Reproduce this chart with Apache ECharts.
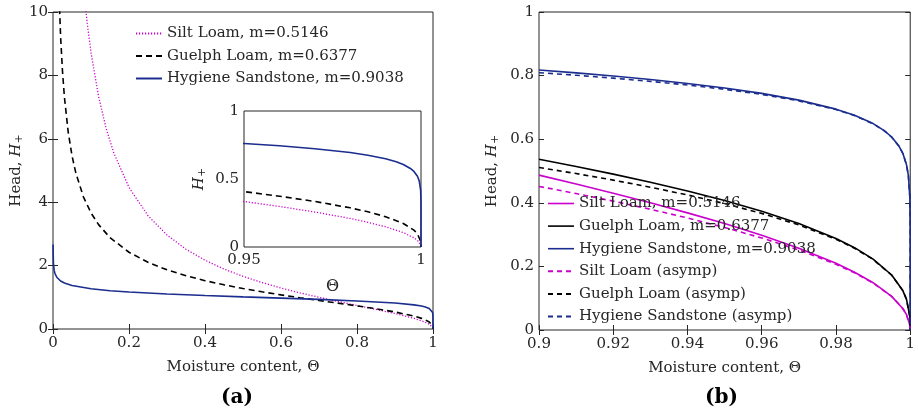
<!DOCTYPE html>
<html>
<head>
<meta charset="utf-8">
<script src="https://cdn.jsdelivr.net/npm/echarts@6/dist/echarts.min.js"></script>
<style>
  html, body { margin: 0; background: #fff; }
  #chart { width: 918px; height: 415px; }
</style>
</head>
<body>
<div id="chart"></div>
<script>
// panel (a): head vs moisture content, whole range
const siltThetaA = [0.08, 0.09, 0.1, 0.12, 0.14, 0.16, 0.2, 0.25, 0.3, 0.35, 0.4, 0.45, 0.5, 0.55, 0.6, 0.65, 0.7, 0.75, 0.8, 0.85, 0.9, 0.95, 0.97, 0.98, 0.99, 0.995, 0.999, 1]
const siltHeadA = [10.79, 9.648, 8.727, 7.330, 6.320, 5.553, 4.466, 3.574, 2.964, 2.516, 2.170, 1.892, 1.662, 1.465, 1.293, 1.140, 1.000, 0.869, 0.743, 0.618, 0.487, 0.335, 0.257, 0.210, 0.149, 0.106, 0.048, 0]

const guelphThetaA = [0.012, 0.015, 0.02, 0.025, 0.03, 0.04, 0.05, 0.06, 0.08, 0.1, 0.12, 0.15, 0.2, 0.25, 0.3, 0.35, 0.4, 0.45, 0.5, 0.55, 0.6, 0.65, 0.7, 0.75, 0.8, 0.85, 0.9, 0.95, 0.97, 0.98, 0.99, 0.995, 0.999, 1]
const guelphHeadA = [12.33, 10.86, 9.223, 8.122, 7.321, 6.212, 5.467, 4.923, 4.170, 3.663, 3.292, 2.883, 2.421, 2.104, 1.867, 1.680, 1.525, 1.393, 1.277, 1.173, 1.077, 0.987, 0.901, 0.816, 0.730, 0.639, 0.537, 0.407, 0.335, 0.288, 0.223, 0.173, 0.096, 0]

const hygThetaA = [0.0001, 0.001, 0.003, 0.005, 0.01, 0.02, 0.03, 0.05, 0.1, 0.15, 0.2, 0.3, 0.4, 0.5, 0.6, 0.7, 0.8, 0.9, 0.95, 0.97, 0.98, 0.99, 0.995, 0.999, 0.9999, 1]
const hygHeadA = [2.665, 2.086, 1.856, 1.757, 1.632, 1.515, 1.450, 1.371, 1.268, 1.209, 1.166, 1.104, 1.056, 1.014, 0.974, 0.933, 0.885, 0.818, 0.761, 0.723, 0.695, 0.649, 0.607, 0.520, 0.416, 0]

// panel (b): close to saturation, full curves and asymptotes (also used by the inset)
const thetaB = [0.9, 0.91, 0.92, 0.93, 0.94, 0.95, 0.96, 0.97, 0.98, 0.985, 0.99, 0.995, 0.998, 0.999, 0.9999, 1]
const siltHeadB = [0.4871, 0.4591, 0.4302, 0.4001, 0.3683, 0.3346, 0.2980, 0.2572, 0.2097, 0.1818, 0.1487, 0.1058, 0.0677, 0.0483, 0.0158, 0]
const siltAsympB = [0.4515, 0.4290, 0.4052, 0.3797, 0.3523, 0.3225, 0.2894, 0.2517, 0.2067, 0.1798, 0.1477, 0.1055, 0.0676, 0.0483, 0.0158, 0]
const guelphHeadB = [0.5369, 0.5141, 0.4901, 0.4646, 0.4372, 0.4072, 0.3737, 0.3351, 0.2880, 0.2589, 0.2230, 0.1730, 0.1240, 0.0964, 0.0418, 0]
const guelphAsympB = [0.5111, 0.4919, 0.4714, 0.4491, 0.4247, 0.3976, 0.3667, 0.3304, 0.2853, 0.2570, 0.2219, 0.1726, 0.1239, 0.0964, 0.0418, 0]

const hygThetaB = [0.9, 0.91, 0.92, 0.93, 0.94, 0.95, 0.96, 0.97, 0.98, 0.985, 0.99, 0.993, 0.995, 0.997, 0.998, 0.999, 0.9995, 0.9999, 0.99999, 0.999999, 1]
const hygHeadB = [0.8178, 0.8087, 0.7987, 0.7876, 0.7752, 0.7609, 0.7440, 0.7229, 0.6945, 0.6752, 0.6491, 0.6270, 0.6069, 0.5776, 0.5555, 0.5196, 0.4861, 0.4163, 0.3336, 0.2673, 0]
const hygAsympB = [0.8092, 0.8010, 0.7920, 0.7818, 0.7704, 0.7569, 0.7409, 0.7206, 0.6931, 0.6742, 0.6484, 0.6265, 0.6066, 0.5775, 0.5554, 0.5196, 0.4860, 0.4163, 0.3336, 0.2673, 0]

const names = ['Silt Loam, m=0.5146', 'Guelph Loam, m=0.6377', 'Hygiene Sandstone, m=0.9038']
const asympNames = ['Silt Loam (asymp)', 'Guelph Loam (asymp)', 'Hygiene Sandstone (asymp)']

const MAG = '#cc00cc'
const BLK = '#000000'
const NAVY = '#1b2d8e'
const AX = '#262626'
const FONT = 'DejaVu Serif'
const FS = 15

const pairs = (xs, ys) => xs.map((x, i) => [x, ys[i]])

const line = (name, xi, yi, data, color, type, width, z) => ({
  name: name,
  type: 'line',
  xAxisIndex: xi,
  yAxisIndex: yi,
  data: data,
  symbol: 'none',
  z: z || 2,
  lineStyle: { color: color, type: type, width: width },
  itemStyle: { color: color },
  animation: false
})

const tickStyle = { inside: true, length: 5, lineStyle: { color: AX } }
const labelStyle = { color: AX, fontFamily: FONT, fontSize: FS }
const rich = {
  n: { fontFamily: FONT, fontSize: FS, color: AX },
  i: { fontFamily: FONT, fontSize: FS, color: AX, fontStyle: 'italic' },
  s: { fontFamily: FONT, fontSize: 11, color: AX, padding: [7, 0, 0, 0] }
}

// bottom/left axis with labels, plus a bare top/right twin for the ticks
const xAxes = (grid, min, max, interval) => [
  { type: 'value', gridIndex: grid, min: min, max: max, interval: interval,
    name: 'Moisture content, \u0398', nameLocation: 'middle', nameGap: 31,
    nameTextStyle: { fontFamily: FONT, fontSize: FS, color: AX },
    axisLine: { show: false }, axisTick: tickStyle, splitLine: { show: false },
    axisLabel: Object.assign({ margin: 7 }, labelStyle) },
  { type: 'value', gridIndex: grid, position: 'top', min: min, max: max, interval: interval,
    axisLine: { show: false }, axisTick: tickStyle, splitLine: { show: false }, axisLabel: { show: false } }
]
const yAxes = (grid, min, max, interval, gap) => [
  { type: 'value', gridIndex: grid, min: min, max: max, interval: interval,
    name: '{n|Head, }{i|H}{s|+}', nameLocation: 'middle', nameGap: gap,
    nameTextStyle: { rich: rich },
    axisLine: { show: false }, axisTick: tickStyle, splitLine: { show: false },
    axisLabel: Object.assign({ margin: 5 }, labelStyle) },
  { type: 'value', gridIndex: grid, position: 'right', min: min, max: max, interval: interval,
    axisLine: { show: false }, axisTick: tickStyle, splitLine: { show: false }, axisLabel: { show: false } }
]

const gridBox = { show: true, borderColor: AX, borderWidth: 1, backgroundColor: '#fff' }
const noDot = { color: 'rgba(0,0,0,0)', borderColor: 'rgba(0,0,0,0)', borderWidth: 0 }

const option = {
  animation: false,
  grid: [
    Object.assign({ left: 53, top: 12, width: 380, height: 317 }, gridBox),
    Object.assign({ left: 539, top: 12, width: 374, height: 318 }, gridBox),
    Object.assign({ left: 244, top: 111, width: 177, height: 136, z: 3 }, gridBox)
  ],
  xAxis: [
    ...xAxes(0, 0, 1, 0.2),
    ...xAxes(1, 0.9, 1, 0.02),
    { type: 'value', gridIndex: 2, min: 0.95, max: 1, interval: 0.05, z: 5,
      name: '\u0398', nameLocation: 'middle', nameGap: 32,
      nameTextStyle: { fontFamily: FONT, fontSize: 16, color: AX },
      axisLine: { show: false }, axisTick: { show: false }, splitLine: { show: false },
      axisLabel: Object.assign({ margin: 6 }, labelStyle) }
  ],
  yAxis: [
    ...yAxes(0, 0, 10, 2, 28),
    ...yAxes(1, 0, 1, 0.2, 38),
    { type: 'value', gridIndex: 2, min: 0, max: 1, interval: 0.5, z: 5,
      name: '{i|H}{s|+}', nameLocation: 'middle', nameGap: 36,
      nameTextStyle: { rich: rich },
      axisLine: { show: false }, axisTick: { show: false }, splitLine: { show: false },
      axisLabel: Object.assign({ margin: 5 }, labelStyle) }
  ],
  legend: [
    { orient: 'vertical', left: 135, top: 26, padding: 0, itemWidth: 26, itemHeight: 14, itemGap: 7.5,
      textStyle: { fontFamily: FONT, fontSize: FS, color: AX }, itemStyle: noDot,
      selectedMode: false, data: names },
    { orient: 'vertical', left: 547, top: 196, padding: 0, itemWidth: 26, itemHeight: 14, itemGap: 7.6,
      textStyle: { fontFamily: FONT, fontSize: FS, color: AX }, itemStyle: noDot, selectedMode: false,
      data: [
        { name: names[0], lineStyle: { type: 'solid', color: MAG, width: 1.6 } },
        { name: names[1], lineStyle: { type: 'solid', color: BLK, width: 1.6 } },
        { name: names[2], lineStyle: { type: 'solid', color: NAVY, width: 1.6 } },
        ...asympNames
      ] }
  ],
  graphic: [
    { type: 'text', left: 221, top: 388, style: { text: '(a)', font: 'bold 20px ' + FONT, fill: '#000' } },
    { type: 'text', left: 705, top: 388, style: { text: '(b)', font: 'bold 20px ' + FONT, fill: '#000' } }
  ],
  series: [
    line(names[0], 0, 0, pairs(siltThetaA, siltHeadA), MAG, [1.2, 1.8], 1.3),
    line(names[1], 0, 0, pairs(guelphThetaA, guelphHeadA), BLK, [6, 4], 1.6),
    line(names[2], 0, 0, pairs(hygThetaA, hygHeadA), NAVY, 'solid', 1.6),

    line(names[0], 2, 2, pairs(thetaB, siltHeadB), MAG, 'solid', 1.6),
    line(names[1], 2, 2, pairs(thetaB, guelphHeadB), BLK, 'solid', 1.6),
    line(names[2], 2, 2, pairs(hygThetaB, hygHeadB), NAVY, 'solid', 1.6),
    line(asympNames[0], 2, 2, pairs(thetaB, siltAsympB), MAG, [5, 4], 1.6),
    line(asympNames[1], 2, 2, pairs(thetaB, guelphAsympB), BLK, [5, 4], 1.6),
    line(asympNames[2], 2, 2, pairs(hygThetaB, hygAsympB), NAVY, [5, 4], 1.6),

    line('inset silt', 4, 4, pairs(thetaB, siltHeadB), MAG, [1.2, 1.8], 1.3, 4),
    line('inset guelph', 4, 4, pairs(thetaB, guelphHeadB), BLK, [6, 4], 1.6, 4),
    line('inset hygiene', 4, 4, pairs(hygThetaB, hygHeadB), NAVY, 'solid', 1.6, 4)
  ]
}

const myChart = echarts.init(document.getElementById('chart'))
myChart.setOption(option)
</script>
</body>
</html>
